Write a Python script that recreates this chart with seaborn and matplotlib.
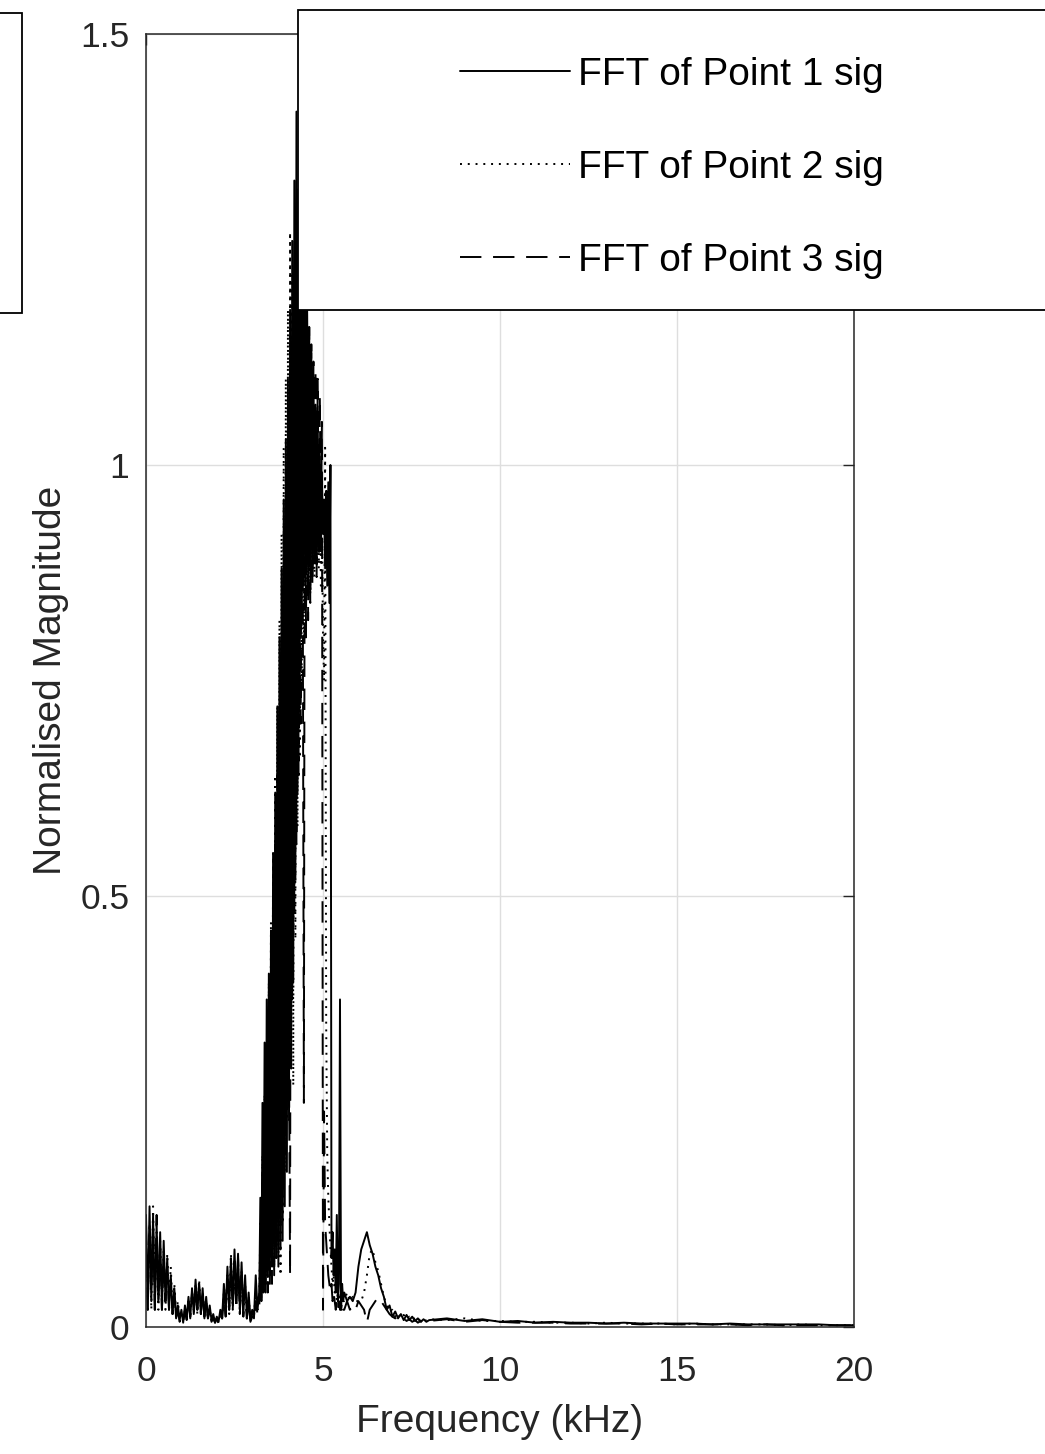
import numpy as np
import pandas as pd
import matplotlib
matplotlib.use("Agg")
import matplotlib.pyplot as plt
from matplotlib.patches import Rectangle
import seaborn as sns

# ---------------- data ----------------
series_names = ["FFT of Point 1 sig", "FFT of Point 2 sig", "FFT of Point 3 sig"]

# FFT bin positions (kHz) for the four stretches of the spectrum
freq_low = np.arange(64) * 0.05          # 0.00 .. 3.15
freq_peak = 3.20 + np.arange(80) * 0.03  # 3.20 .. 5.57
freq_bump = 5.60 + np.arange(30) * 0.08  # 5.60 .. 7.92
freq_tail = 8.0 + np.arange(25) * 0.5    # 8.0 .. 20.0

# ---- Point 1 (solid)
p1_low = [0.13, 0.02, 0.14, 0.03, 0.13, 0.02, 0.12, 0.03, 0.11, 0.02,
          0.10, 0.03, 0.08, 0.02, 0.06, 0.015, 0.045, 0.01, 0.025, 0.008,
          0.02, 0.005, 0.025, 0.01, 0.035, 0.01, 0.045, 0.015, 0.055, 0.02,
          0.05, 0.015, 0.045, 0.01, 0.035, 0.01, 0.025, 0.008, 0.015, 0.005,
          0.012, 0.006, 0.02, 0.01, 0.05, 0.015, 0.07, 0.02, 0.08, 0.025,
          0.09, 0.03, 0.085, 0.02, 0.075, 0.015, 0.06, 0.01, 0.04, 0.008,
          0.02, 0.01, 0.06, 0.02]
p1_peak = [0.04, 0.15, 0.03, 0.26, 0.05, 0.33, 0.04, 0.38, 0.06, 0.41,
           0.05, 0.46, 0.07, 0.55, 0.06, 0.62, 0.08, 0.72, 0.07, 0.80,
           0.09, 0.88, 0.10, 0.96, 0.14, 1.03, 0.18, 1.10, 0.24, 1.18,
           0.30, 1.26, 0.40, 1.33, 0.52, 1.41, 0.62, 1.32, 0.72, 1.28,
           0.82, 1.25, 0.86, 1.22, 0.88, 1.19, 0.87, 1.16, 0.89, 1.13,
           0.88, 1.10, 0.90, 1.07, 0.89, 1.04, 0.91, 1.01, 0.90, 0.98,
           0.92, 0.96, 0.88, 0.97, 0.86, 0.98, 0.84, 1.00, 0.08, 0.11,
           0.06, 0.09, 0.04, 0.13, 0.03, 0.05, 0.38, 0.02, 0.05, 0.03]
p1_bump = [0.04, 0.03, 0.035, 0.03, 0.04, 0.07, 0.09, 0.10, 0.11, 0.095,
           0.085, 0.07, 0.06, 0.045, 0.035, 0.02, 0.025, 0.012, 0.018, 0.01,
           0.015, 0.008, 0.014, 0.008, 0.012, 0.007, 0.01, 0.006, 0.009, 0.006]
p1_tail = [0.008, 0.010, 0.007, 0.009, 0.006, 0.007, 0.005, 0.006, 0.005, 0.005,
           0.004, 0.005, 0.004, 0.004, 0.004, 0.004, 0.003, 0.004, 0.003, 0.003,
           0.003, 0.003, 0.003, 0.002, 0.002]

# ---- Point 2 (dotted)
p2_low = [0.10, 0.03, 0.12, 0.02, 0.14, 0.03, 0.11, 0.02, 0.10, 0.03,
          0.09, 0.02, 0.085, 0.03, 0.07, 0.02, 0.05, 0.015, 0.03, 0.01,
          0.015, 0.008, 0.02, 0.012, 0.03, 0.01, 0.04, 0.02, 0.05, 0.015,
          0.055, 0.02, 0.04, 0.015, 0.03, 0.01, 0.02, 0.008, 0.012, 0.006,
          0.01, 0.005, 0.015, 0.01, 0.04, 0.02, 0.06, 0.015, 0.085, 0.02,
          0.08, 0.025, 0.07, 0.02, 0.065, 0.015, 0.05, 0.01, 0.035, 0.01,
          0.015, 0.012, 0.04, 0.02]
p2_peak = [0.03, 0.12, 0.04, 0.20, 0.05, 0.27, 0.06, 0.33, 0.05, 0.40,
           0.06, 0.47, 0.08, 0.55, 0.07, 0.64, 0.09, 0.72, 0.08, 0.82,
           0.06, 0.92, 0.12, 1.02, 0.18, 1.10, 0.24, 1.18, 0.26, 1.27,
           0.30, 1.22, 0.28, 1.20, 0.45, 1.18, 0.58, 1.16, 0.66, 1.15,
           0.74, 1.12, 0.80, 1.10, 0.84, 1.08, 0.86, 1.06, 0.85, 1.04,
           0.88, 1.02, 0.87, 1.00, 0.89, 0.98, 0.88, 0.97, 0.86, 0.95,
           0.80, 0.75, 1.02, 0.35, 0.20, 0.15, 0.12, 0.09, 0.07, 0.05,
           0.06, 0.04, 0.05, 0.03, 0.04, 0.03, 0.04, 0.03, 0.04, 0.03]
p2_bump = [0.03, 0.04, 0.03, 0.035, 0.03, 0.03, 0.03, 0.04, 0.06, 0.085,
           0.09, 0.075, 0.065, 0.05, 0.035, 0.025, 0.018, 0.02, 0.012, 0.016,
           0.01, 0.014, 0.009, 0.012, 0.008, 0.011, 0.007, 0.009, 0.006, 0.008]
p2_tail = [0.009, 0.008, 0.010, 0.007, 0.007, 0.006, 0.006, 0.005, 0.005, 0.004,
           0.005, 0.004, 0.004, 0.004, 0.003, 0.004, 0.003, 0.003, 0.003, 0.003,
           0.002, 0.003, 0.002, 0.002, 0.002]

# ---- Point 3 (dashed)
p3_low = [0.12, 0.02, 0.11, 0.04, 0.12, 0.02, 0.13, 0.03, 0.09, 0.02,
          0.08, 0.03, 0.07, 0.02, 0.055, 0.015, 0.04, 0.01, 0.02, 0.006,
          0.012, 0.006, 0.018, 0.008, 0.03, 0.012, 0.04, 0.015, 0.045, 0.02,
          0.05, 0.015, 0.04, 0.012, 0.03, 0.01, 0.02, 0.006, 0.01, 0.005,
          0.01, 0.004, 0.014, 0.01, 0.035, 0.012, 0.055, 0.02, 0.07, 0.02,
          0.075, 0.02, 0.08, 0.015, 0.06, 0.012, 0.045, 0.01, 0.03, 0.006,
          0.012, 0.008, 0.03, 0.015]
p3_peak = [0.02, 0.10, 0.03, 0.18, 0.04, 0.25, 0.05, 0.30, 0.04, 0.34,
           0.06, 0.40, 0.05, 0.48, 0.07, 0.56, 0.08, 0.64, 0.10, 0.70,
           0.12, 0.78, 0.15, 0.86, 0.20, 0.92, 0.25, 0.98, 0.30, 0.06,
           1.08, 0.38, 1.15, 0.48, 1.22, 0.56, 1.27, 0.64, 1.30, 0.70,
           1.26, 0.84, 0.26, 1.22, 0.80, 1.18, 0.82, 1.16, 0.84, 1.14,
           0.86, 1.12, 0.88, 1.11, 0.87, 1.10, 0.90, 1.08, 0.92, 1.05,
           0.02, 0.25, 0.12, 0.10, 0.08, 0.06, 0.05, 0.04, 0.05, 0.03,
           0.04, 0.03, 0.02, 0.03, 0.02, 0.03, 0.02, 0.02, 0.03, 0.02]
p3_bump = [0.02, 0.03, 0.02, 0.025, 0.02, 0.03, 0.025, 0.02, 0.005, 0.02,
           0.025, 0.03, 0.035, 0.03, 0.025, 0.02, 0.015, 0.012, 0.01, 0.012,
           0.008, 0.01, 0.007, 0.009, 0.006, 0.008, 0.005, 0.007, 0.005, 0.006]
p3_tail = [0.007, 0.009, 0.006, 0.008, 0.006, 0.005, 0.005, 0.005, 0.004, 0.004,
           0.004, 0.004, 0.003, 0.004, 0.003, 0.003, 0.003, 0.003, 0.002, 0.003,
           0.002, 0.002, 0.002, 0.002, 0.002]

x_ticks = [0, 5, 10, 15, 20]
x_tick_labels = ["0", "5", "10", "15", "20"]
y_ticks = [0, 0.5, 1.0, 1.5]
y_tick_labels = ["0", "0.5", "1", "1.5"]

# ---------------- assemble ----------------
freq_all = np.concatenate([freq_low, freq_peak, freq_bump, freq_tail])
frames = []
for name, parts in zip(series_names,
                       [(p1_low, p1_peak, p1_bump, p1_tail),
                        (p2_low, p2_peak, p2_bump, p2_tail),
                        (p3_low, p3_peak, p3_bump, p3_tail)]):
    mag = np.concatenate([np.asarray(p, float) for p in parts])
    assert len(mag) == len(freq_all), (name, len(mag), len(freq_all))
    frames.append(pd.DataFrame({"freq": freq_all, "mag": mag, "series": name}))
df = pd.concat(frames, ignore_index=True)

# ---------------- style ----------------
sns.set_theme(style="whitegrid")
plt.rcParams["font.family"] = ["Liberation Sans", "DejaVu Sans"]
plt.rcParams["text.color"] = "#262626"

W, H = 1045, 1454
LW = 1.4
fig = plt.figure(figsize=(W / 100, H / 100), dpi=100)
fig.patch.set_facecolor("white")
ax = fig.add_axes([146 / W, 1 - 1327 / H, 708 / W, 1293 / H])
ax.set_facecolor("white")

dash_map = {series_names[0]: "", series_names[1]: (1, 3), series_names[2]: (11, 6)}
sns.lineplot(data=df, x="freq", y="mag", style="series", dashes=dash_map,
             color="black", linewidth=LW, estimator=None, sort=False,
             ax=ax, legend=True)

handles, labels = ax.get_legend_handles_labels()
if ax.get_legend() is not None:
    ax.get_legend().remove()

ax.set_xlim(0, 20)
ax.set_ylim(0, 1.5)
ax.set_xticks(x_ticks)
ax.set_xticklabels(x_tick_labels)
ax.set_yticks(y_ticks)
ax.set_yticklabels(y_tick_labels)
ax.set_axisbelow(True)
ax.grid(True, color="#dedede", linewidth=1.0)
for s in ax.spines.values():
    s.set_visible(True)
    s.set_color("#262626")
    s.set_linewidth(1.1)
ax.tick_params(axis="both", direction="in", length=8, width=1.0, color="#262626",
               top=True, right=True, labelsize=25.5, labelcolor="#262626")
ax.tick_params(axis="x", pad=20)
ax.tick_params(axis="y", pad=12)
ax.set_xlabel("Frequency (kHz)", fontsize=28, color="#262626", labelpad=12)
ax.set_ylabel("Normalised Magnitude", fontsize=28, color="#262626", labelpad=8)

# legend box (extends past the right edge) and stray box at left edge
fig.patches.append(Rectangle((298 / W, 1 - 310 / H), (1070 - 298) / W, 300 / H,
                             transform=fig.transFigure, facecolor="white",
                             edgecolor="black", linewidth=1.3, zorder=2,
                             clip_on=False))
fig.patches.append(Rectangle((-12 / W, 1 - 313 / H), 34 / W, 300 / H,
                             transform=fig.transFigure, facecolor="none",
                             edgecolor="black", linewidth=1.3, zorder=2,
                             clip_on=False))

for h in handles:
    h.set_color("black")
    h.set_linewidth(LW)
leg = fig.legend(handles, labels, loc="upper left",
                 bbox_to_anchor=(460 / W, 1 - 57 / H), frameon=False,
                 fontsize=28, handlelength=2.83, handletextpad=0.2,
                 labelspacing=1.465, borderpad=0, borderaxespad=0)
leg.set_zorder(5)
for t in leg.get_texts():
    t.set_color("black")

fig.savefig("out.png", dpi=100, facecolor="white")
